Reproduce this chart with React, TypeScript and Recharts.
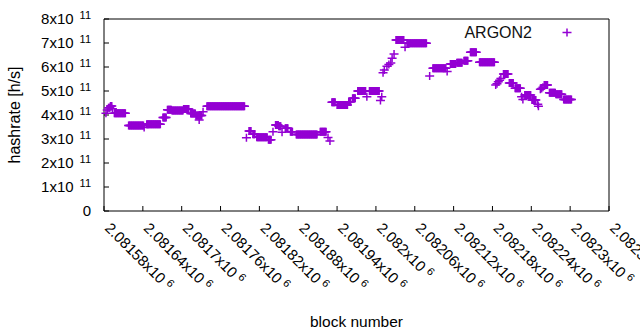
import { ScatterChart, Scatter, XAxis, YAxis, Legend, Label } from "recharts"

const PURPLE = "#9400D3"
const FONT = "'Liberation Sans', Arial, sans-serif"

// block numbers are offsets from this base
const BLOCK_BASE = 2081580

// runs of blocks that share the same hashrate
const runFirst = [
  3, 5, 7, 10, 13, 16, 38, 62, 66, 91, 98, 105, 123, 134, 142, 147, 153, 159,
  220, 224, 230, 236, 254, 261, 265, 270, 275, 280, 288, 297, 334, 346, 349,
  352, 360, 378, 384, 392, 406, 410, 427, 429, 431, 433, 437, 440, 443, 445, 448,
  451, 465, 468, 503, 508, 530, 535, 545, 556, 566, 580, 605, 607, 609, 611, 613,
  617, 626, 635, 645, 647, 650, 661, 670, 671, 674, 676, 678, 680, 688, 698, 710,
]
const runLast = [
  3, 5, 9, 12, 13, 33, 61, 62, 87, 96, 104, 122, 131, 141, 151, 147, 153, 217,
  220, 227, 233, 252, 258, 261, 269, 273, 275, 284, 291, 329, 343, 346, 349,
  357, 376, 381, 388, 404, 406, 425, 427, 429, 431, 433, 437, 440, 443, 445, 448,
  463, 465, 498, 503, 528, 530, 543, 553, 562, 575, 603, 605, 607, 609, 611, 613,
  624, 632, 643, 645, 647, 659, 667, 670, 671, 674, 676, 678, 685, 697, 707, 722,
]
// x10^11 h/s
const runHashrate = [
  4.07, 4.21, 4.3, 4.37, 4.26, 4.07, 3.56, 3.48, 3.61, 3.9, 4.22, 4.19, 4.25, 4.06, 3.98, 3.79, 4.14, 4.36,
  3.05, 3.33, 3.2, 3.07, 2.97, 3.3, 3.58, 3.53, 3.28, 3.45, 3.3, 3.19, 3.3, 3.06, 2.92,
  4.53, 4.42, 4.55, 4.7, 5.0, 4.76, 5.0, 4.6, 4.76, 5.76, 5.87, 6.03, 6.1, 6.17, 6.36, 6.54,
  7.12, 6.82, 6.99, 5.62, 5.95, 5.81, 6.12, 6.18, 6.26, 6.61, 6.2, 5.25, 5.3, 5.39, 5.45, 5.52,
  5.71, 5.33, 5.11, 4.76, 4.65, 4.83, 4.63, 4.45, 4.36, 5.07, 5.1, 5.16, 5.25, 4.93, 4.86, 4.65,
]

const xTicks = [
  2081580, 2081640, 2081700, 2081760, 2081820, 2081880, 2081940,
  2082000, 2082060, 2082120, 2082180, 2082240, 2082300, 2082360,
]
const yTicks = [0, 1e11, 2e11, 3e11, 4e11, 5e11, 6e11, 7e11, 8e11]

const points: { block: number; hashrate: number }[] = []
runFirst.forEach((first, i) => {
  for (let b = first; b <= runLast[i]; b++) {
    points.push({ block: BLOCK_BASE + b, hashrate: runHashrate[i] * 1e11 })
  }
})

const Cross = (props: any) => {
  const { cx, cy } = props
  return (
    <path
      d={`M${cx - 4.5},${cy}h9M${cx},${cy - 4}v8`}
      stroke={PURPLE}
      strokeWidth={1.5}
      fill="none"
    />
  )
}

const XTick = ({ x, y, payload }: any) => {
  const mant = parseFloat((payload.value / 1e6).toFixed(5)).toString()
  return (
    <text x={x} y={y} transform={`rotate(45 ${x} ${y})`} fontSize={15} fontFamily={FONT} fill="#000">
      {mant}x10<tspan dx={4} dy={-5} fontSize={11}>6</tspan>
    </text>
  )
}

const YTick = ({ x, y, payload }: any) => {
  const n = payload.value / 1e11
  return (
    <text x={x} y={y} dy={5} textAnchor="end" fontSize={15} fontFamily={FONT} fill="#000">
      {n === 0 ? "0" : (
        <>
          {n}x10<tspan dx={6} dy={-5} fontSize={11}>11</tspan>
        </>
      )}
    </text>
  )
}

const LegendBox = ({ payload }: any) => (
  <svg width={640} height={330}>
    <text x={532} y={37.5} textAnchor="end" fontSize={16} fontFamily={FONT} fill="#111">
      {payload && payload[0] ? payload[0].value : ""}
    </text>
    <Cross cx={567} cy={32.5} />
  </svg>
)

export default function App() {
  return (
    <div style={{ position: "absolute", left: 0, top: 0, width: 640, height: 330, background: "#fff" }}>
      <ScatterChart width={640} height={330} margin={{ top: 18, right: 30, bottom: 0, left: 0 }}>
        <XAxis
          xAxisId="bottom"
          dataKey="block"
          type="number"
          domain={[2081580, 2082360]}
          ticks={xTicks}
          interval={0}
          height={119}
          tickSize={-5}
          tickMargin={23}
          tick={<XTick />}
          stroke="#000"
        >
          <Label
            content={({ viewBox }: any) => (
              <text
                x={viewBox.x + viewBox.width / 2}
                y={viewBox.y + viewBox.height - 3}
                textAnchor="middle"
                fontSize={15.5}
                fontFamily={FONT}
                fill="#000"
              >
                block number
              </text>
            )}
          />
        </XAxis>
        <XAxis
          xAxisId="top"
          orientation="top"
          dataKey="block"
          type="number"
          domain={[2081580, 2082360]}
          ticks={xTicks}
          interval={0}
          height={1}
          tickSize={-5}
          tick={() => null}
          stroke="#000"
        />
        <YAxis
          yAxisId="left"
          dataKey="hashrate"
          type="number"
          domain={[0, 8e11]}
          ticks={yTicks}
          interval={0}
          width={104}
          tickSize={-5}
          tickMargin={18}
          tick={<YTick />}
          stroke="#000"
        >
          <Label
            content={({ viewBox }: any) => (
              <text
                x={20}
                y={viewBox.y + viewBox.height / 2}
                transform={`rotate(-90 20 ${viewBox.y + viewBox.height / 2})`}
                textAnchor="middle"
                fontSize={16}
                fontFamily={FONT}
                fill="#000"
              >
                hashrate [h/s]
              </text>
            )}
          />
        </YAxis>
        <YAxis
          yAxisId="right"
          orientation="right"
          dataKey="hashrate"
          type="number"
          domain={[0, 8e11]}
          ticks={yTicks}
          interval={0}
          width={1}
          tickSize={-5}
          tick={() => null}
          stroke="#000"
        />
        <Legend
          layout="horizontal"
          verticalAlign="middle"
          wrapperStyle={{ position: "absolute", left: 0, top: 0, width: 640, height: 330, pointerEvents: "none" }}
          content={<LegendBox />}
        />
        <Scatter
          name="ARGON2"
          data={points}
          xAxisId="bottom"
          yAxisId="left"
          fill={PURPLE}
          shape={<Cross />}
          isAnimationActive={false}
        />
      </ScatterChart>
    </div>
  )
}
